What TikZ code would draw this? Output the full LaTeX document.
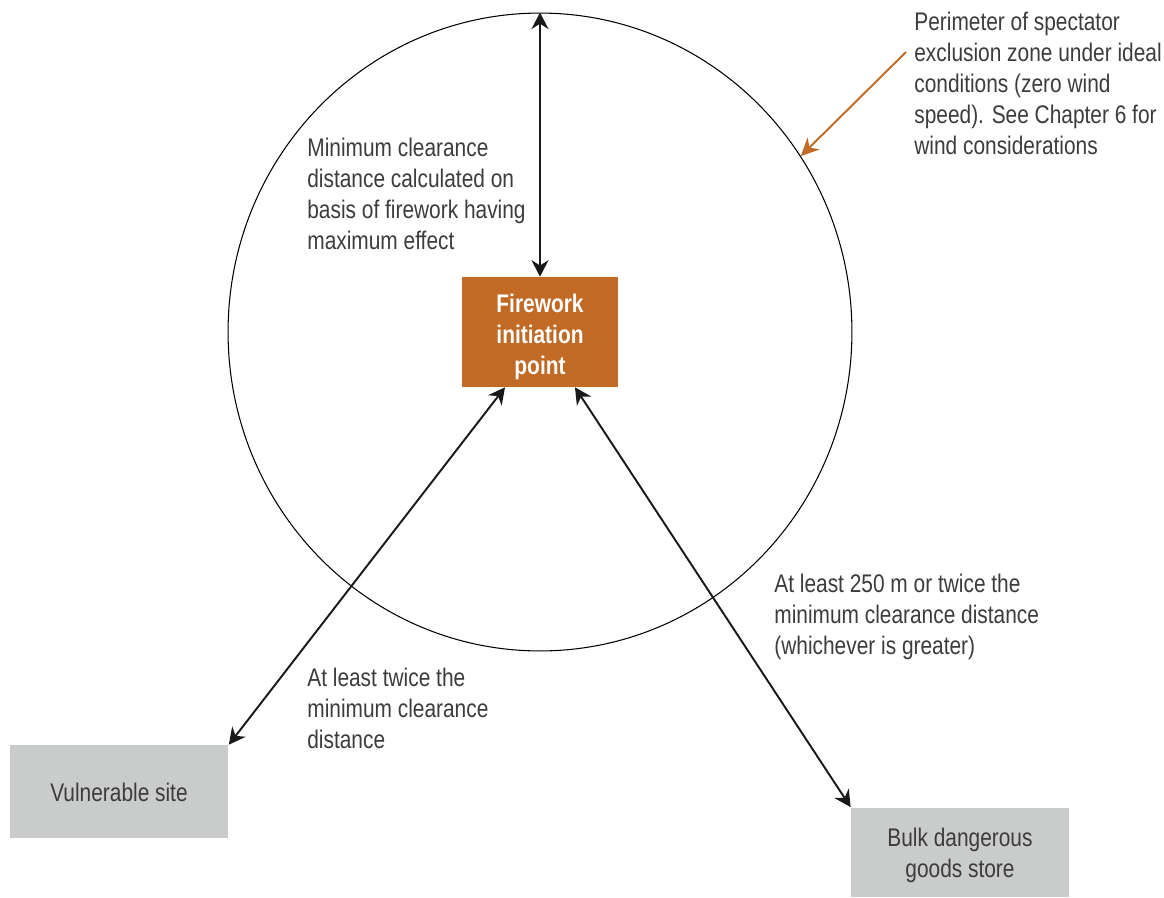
\documentclass[tikz,border=0pt]{standalone}
\usepackage{fontspec}
\setmainfont{Liberation Sans}[FakeStretch=0.82]
\usepackage{xcolor}
\usetikzlibrary{shapes.geometric,arrows.meta}
\definecolor{fireorange}{HTML}{C06A25}
\definecolor{sitegray}{HTML}{CACCCB}
\definecolor{textgray}{HTML}{3C3C3C}

\tikzset{
  note/.style={anchor=north west, align=left, inner sep=0pt, text=textgray,
    font=\fontsize{14.5pt}{17.6pt}\selectfont},
  sitebox/.style={fill=sitegray, inner sep=0pt},
  sitetext/.style={align=center, inner sep=0pt, text=textgray,
    font=\fontsize{14.5pt}{17.6pt}\selectfont},
  dist/.style={{Stealth[length=3.3mm,width=3.4mm]}-{Stealth[length=3.3mm,width=3.4mm]}, line width=1.1pt, black!90}
}

\begin{document}
\begin{tikzpicture}[x=0.02cm, y=-0.02cm]
\useasboundingbox (0,0) rectangle (1164,897);

% exclusion zone
\node[draw, ellipse, inner sep=0pt, line width=0.6pt, minimum width=12.48cm, minimum height=12.76cm] (zone) at (540,332) {};

% firing point and sites
\node[fill=fireorange, inner sep=0pt, minimum width=3.12cm, minimum height=2.2cm] (fire) at (540,332) {};
\node[text=white, align=center, inner sep=0pt, font=\bfseries\fontsize{14.5pt}{17.6pt}\selectfont]
  (firetext) at (540,337) {Firework\\initiation\\point};
\node[sitebox, minimum width=4.38cm, minimum height=1.86cm] (vuln) at (119,791.5) {};
\node[sitetext] (vulntext) at (119,792.5) {Vulnerable site};
\node[sitebox, minimum width=4.36cm, minimum height=1.78cm] (bulk) at (960,852) {};
\node[sitetext] (bulktext) at (960,855) {Bulk dangerous\\goods store};

% distances
\draw[dist] (fire.north) -- (zone.north);
\draw[dist] ([xshift=-0.7cm]fire.south) -- (vuln.north east);
\draw[dist] ([xshift=0.7cm]fire.south) -- (bulk.north west);

% pointer to the perimeter
\coordinate (ptr) at (906,52);
\draw[-{Stealth[length=3.6mm,width=3.4mm]}, fireorange, line width=1.1pt] (ptr) -- (zone.34);

% labels
\node[note] (perim) at (914,12) {Perimeter of spectator\\exclusion zone under ideal\\conditions (zero wind\\speed). See Chapter 6 for\\wind considerations};
\node[note] (minclr) at (307,138) {Minimum clearance\\distance calculated on\\basis of firework having\\maximum effect};
\node[note] (bulkdist) at (774,574) {At least 250 m or twice the\\minimum clearance distance\\(whichever is greater)};
\node[note] (vulndist) at (307,668) {At least twice the\\minimum clearance\\distance};
\end{tikzpicture}
\end{document}
